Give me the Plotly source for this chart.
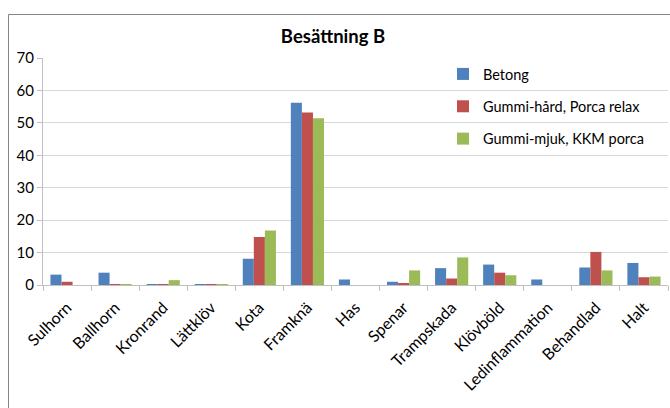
import plotly.graph_objects as go

categories = ["Sulhorn", "Ballhorn", "Kronrand", "Lättklöv", "Kota", "Framknä", "Has",
              "Spenar", "Trampskada", "Klövböld", "Ledinflammation", "Behandlad", "Halt"]
betong = [3.2, 3.8, 0.1, 0.1, 8.1, 56.2, 1.7, 1.0, 5.2, 6.3, 1.7, 5.4, 6.8]
gummi_hard = [1.0, 0.3, 0.1, 0.3, 14.8, 53.2, None, 0.6, 2.0, 3.8, None, 10.2, 2.4]
gummi_mjuk = [None, 0.3, 1.5, 0.1, 16.8, 51.4, None, 4.5, 8.5, 3.0, None, 4.5, 2.6]
series_names = ["Betong", "Gummi-hård, Porca relax", "Gummi-mjuk, KKM porca"]
colors = ["#4F81BD", "#C0504D", "#9BBB59"]
y_ticks = [0, 10, 20, 30, 40, 50, 60, 70]
title = "Besättning B"

FONT = "Lato, 'Open Sans', sans-serif"

fig = go.Figure()
for name, vals, col, grp in zip(series_names, [betong, gummi_hard, gummi_mjuk], colors, ["a", "b", "c"]):
    fig.add_trace(go.Bar(x=categories, y=vals, name=name, marker_color=col,
                         marker_line_width=0, legendgroup=grp))

L, R, T, B = 43, 2, 58, 123
W, H = 670, 408
pw, ph = W - L - R, H - T - B

def px2x(p):
    return (p - L) / pw

def px2y(p):
    return (H - B - p) / ph

fig.update_layout(
    width=W, height=H,
    margin=dict(l=L, r=R, t=T, b=B, pad=0),
    paper_bgcolor="white", plot_bgcolor="white",
    font=dict(family=FONT, size=14, color="#000000"),
    title=dict(text="<b>" + title + "</b>", x=333 / W, xanchor="center", xref="container",
               y=1 - 37 / H, yanchor="middle", yref="container",
               font=dict(family=FONT, size=18.5, color="#000000")),
    barmode="group", bargap=0.31, bargroupgap=0,
    showlegend=True,
    legend=dict(x=px2x(443), y=px2y(58), xanchor="left", yanchor="top",
                font=dict(family=FONT, size=14.5, color="#000000"),
                bgcolor="rgba(0,0,0,0)", tracegroupgap=10.5, traceorder="grouped"),
    xaxis=dict(tickangle=-45, showgrid=False, showline=True, linecolor="#BFBFBF", linewidth=1,
               ticks="outside", ticklen=5, tickcolor="#BFBFBF", tickson="boundaries",
               ticklabelstandoff=6,
               tickfont=dict(family=FONT, size=16, color="#000000"), fixedrange=True),
    yaxis=dict(range=[0, 70], tickvals=y_ticks, showgrid=True, gridcolor="#D9D9D9", gridwidth=1,
               showline=True, linecolor="#BFBFBF", linewidth=1, ticks="outside", ticklen=5,
               tickcolor="#BFBFBF", zeroline=False,
               tickfont=dict(family=FONT, size=15, color="#000000"), fixedrange=True),
    shapes=[dict(type="rect", xref="paper", yref="paper",
                 x0=px2x(8.5), x1=px2x(720), y0=px2y(460), y1=px2y(14.5),
                 line=dict(color="#868686", width=1), fillcolor="rgba(0,0,0,0)", layer="below")],
)

fig.write_html("out.html")
